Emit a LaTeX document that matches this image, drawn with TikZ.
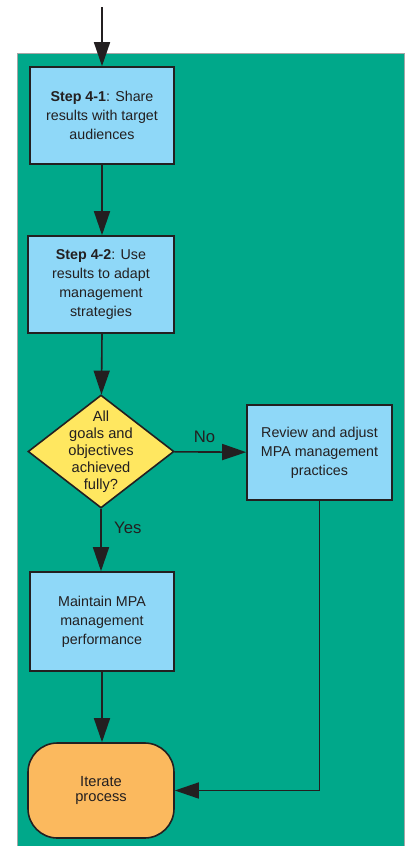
\documentclass[tikz,border=0pt]{standalone}
\usepackage{fontspec}
\setmainfont{Liberation Sans}
\usetikzlibrary{shapes.geometric,arrows.meta}

\definecolor{bggreen}{RGB}{0,168,138}
\definecolor{boxblue}{RGB}{143,216,248}
\definecolor{decyellow}{RGB}{255,231,96}
\definecolor{endorange}{RGB}{251,185,94}
\definecolor{inkdark}{RGB}{35,31,32}

\tikzset{every picture/.style={line width=1.2pt}}
\tikzset{
  stepbox/.style={draw=inkdark,fill=boxblue,inner sep=0.75pt,align=center,text=inkdark,
    font=\fontsize{10.7}{14.25}\selectfont},
  decbox/.style={shape=diamond,draw=inkdark,fill=decyellow,inner sep=0pt,minimum width=109.5pt,minimum height=84.75pt},
  endbox/.style={draw=inkdark,fill=endorange,rounded corners=22pt,inner sep=0.75pt,align=center,text=inkdark,
    minimum width=109.5pt,minimum height=71.25pt,font=\fontsize{11}{11}\selectfont},
  flow/.style={draw=inkdark,-{Triangle[width=12pt,length=18pt]}},
  lbl/.style={text=inkdark,font=\fontsize{12.5}{14}\selectfont}
}

\begin{document}
\begin{tikzpicture}[x=0.75pt,y=0.75pt,yscale=-1,xscale=1]
    \useasboundingbox (0,0) rectangle (406,846);
    \draw [draw=gray!70,fill=bggreen,line width=0.5pt] (17,53) rectangle (404,846);

    \coordinate (start) at (102,7);
    \node [stepbox,minimum width=108pt,minimum height=72.75pt] (share) at (102,115.5) {\textbf{Step 4-1}: Share\\results with target\\audiences};
    \node [stepbox,minimum width=109.5pt,minimum height=72.75pt] (adapt) at (101,284.5) {\textbf{Step 4-2}: Use\\results to adapt\\management\\strategies};
    \node [decbox,label={[align=center,text=inkdark,font=\fontsize{11}{12.75}\selectfont]center:All\\goals and\\objectives\\achieved\\fully?}] (goals) at (101,451.5) {};
    \node [stepbox,minimum width=108.75pt,minimum height=71.25pt] (review) at (319.5,452.5) {Review and adjust\\MPA management\\practices};
    \node [stepbox,minimum width=108pt,minimum height=74.25pt] (maintain) at (102,621.5) {Maintain MPA\\management\\performance};
    \node [endbox] (iterate) at (101,790.5) {Iterate\\process};
    \coordinate (corner) at (review.south |- iterate.east);

    \draw [flow] (start) -- (share);
    \draw [flow] (share) -- (adapt.north -| share.south);
    \draw [flow] (adapt.south -| share.south) -- (goals);
    \draw [flow] (goals) -- (review) node [lbl,pos=0.42,above=3pt] {No};
    \draw [flow] (goals) -- (maintain.north -| goals.south) node [lbl,pos=0.3,right=6pt] {Yes};
    \draw [flow] (maintain) -- (iterate.north -| maintain.south);
    \draw [flow] (review) -- (corner) -- (iterate.east);
\end{tikzpicture}
\end{document}
